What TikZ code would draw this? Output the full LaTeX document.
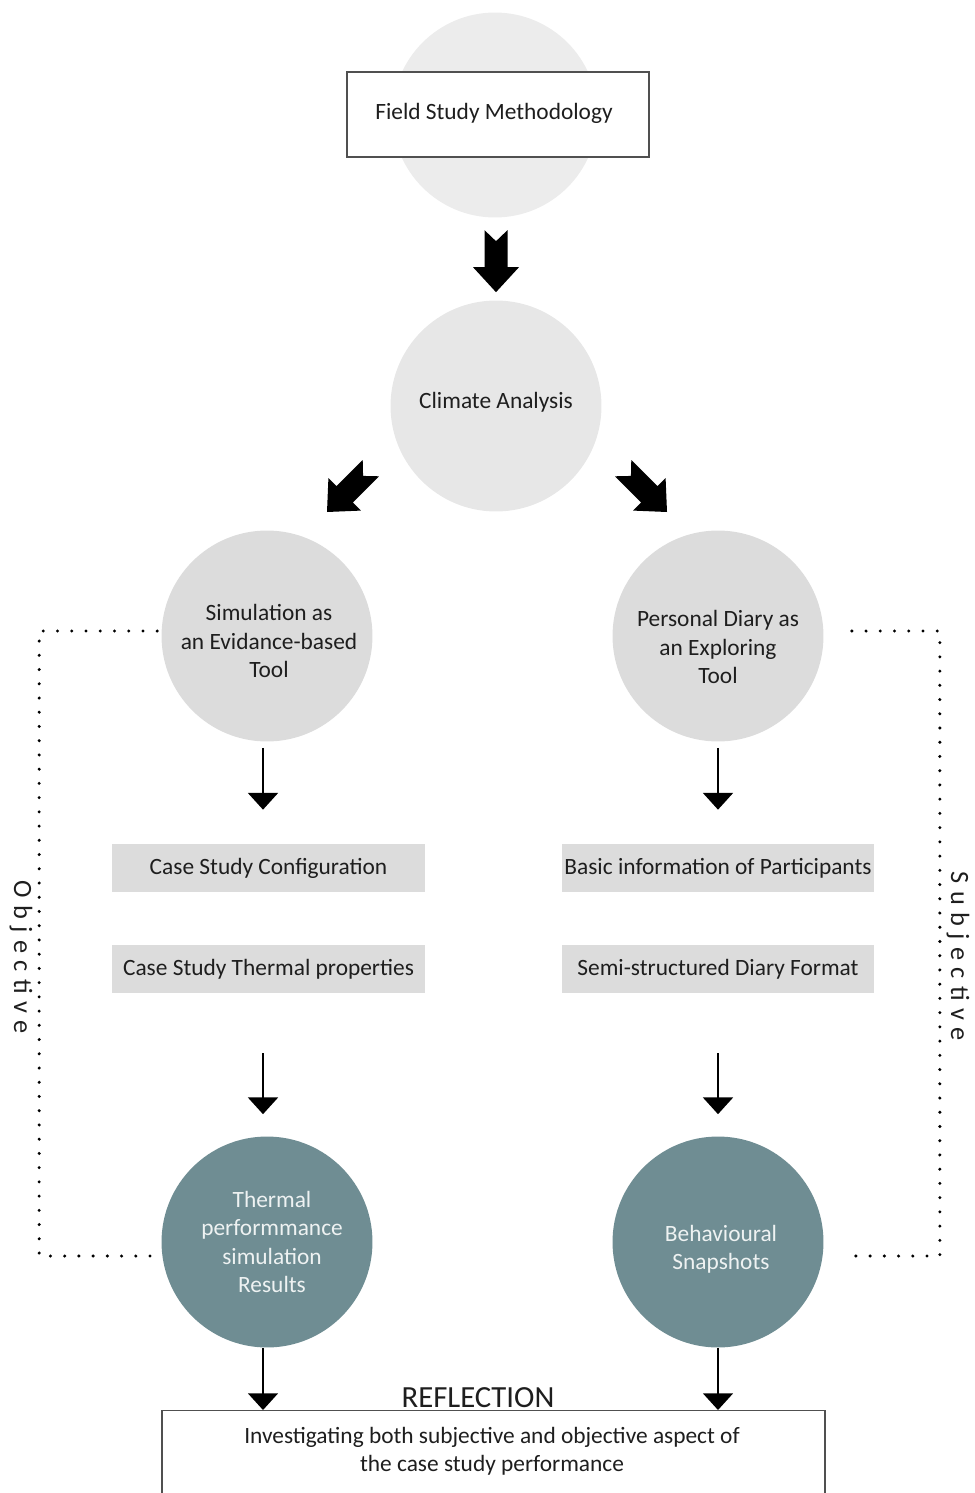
\documentclass[tikz,border=0pt]{standalone}
\usepackage{fontspec}
\setmainfont{Carlito}
\usetikzlibrary{arrows.meta,calc}

\definecolor{inkc}{HTML}{1E1E1E}
\definecolor{palec}{HTML}{ECECEC}
\definecolor{lightc}{HTML}{E7E7E7}
\definecolor{midc}{HTML}{DCDCDC}
\definecolor{tealc}{HTML}{6F8D93}
\definecolor{edgec}{HTML}{505050}
\definecolor{softw}{HTML}{EEF2F2}

\tikzset{
  blockarrow/.pic={
    \fill[black] (0,0) -- (23,-25) -- (11.5,-25) -- (11.5,-62) -- (0,-51)
      -- (-11.5,-62) -- (-11.5,-25) -- (-23,-25) -- cycle;
  },
  disc/.style={circle, inner sep=0pt, minimum size=4.22cm, align=center},
  lightdisc/.style={disc, fill=midc},
  darkdisc/.style={disc, fill=tealc},
  disctext/.style={align=center, inner sep=0pt},
  darktext/.style={disctext, text=softw},
  graybox/.style={fill=midc, minimum width=6.26cm, minimum height=0.96cm, inner sep=0pt},
  flow/.style={line width=1.1pt, -{Triangle[width=17pt,length=9.5pt]}},
  dotline/.style={line width=1.9pt, line cap=round, dash pattern=on 0pt off 8.1pt},
  sidelabel/.style={rotate=-90, font=\fontsize{15}{18}\selectfont\addfontfeature{LetterSpace=28}}
}

\begin{document}
\begin{tikzpicture}[x=0.02cm, y=-0.02cm,
  every node/.style={text=inkc, font=\fontsize{13.3}{16.2}\selectfont}]
\useasboundingbox (0,0) rectangle (974,1493);
\clip (0,0) rectangle (974,1493);

% top: methodology box over a pale disc
\node[disc, fill=palec, minimum size=4.1cm] (topdisc) at (495,115) {};
\node[draw=edgec, line width=0.8pt, fill=white, minimum width=6.04cm, minimum height=1.7cm,
      inner sep=0pt] (fsm) at (498,114.5) {};
\node (fsmtext) at (494,113) {Field Study Methodology};

% climate analysis
\node[disc, fill=lightc] (climate) at (496,406) {};
\node (climatetext) at (496,402) {Climate Analysis};

% the two tools
\node[lightdisc] (sim) at (267,636) {};
\node[disctext] (simtext) at ($(sim.center)+(2,5)$) {Simulation as\\an Evidance-based\\Tool};
\node[lightdisc] (diary) at (718,636) {};
\node[disctext] (diarytext) at ($(diary.center)+(0,11)$) {Personal Diary as\\an Exploring\\Tool};

% inputs
\node[graybox] (conf) at (268.5,868) {Case Study Configuration};
\node[graybox] (prop) at (268.5,969) {Case Study Thermal properties};
\node[graybox] (basic) at (718,868) {Basic information of Participants};
\node[graybox] (format) at (718,969) {Semi-structured Diary Format};

% results
\node[darkdisc] (res) at (267,1242) {};
\node[darktext] (restext) at ($(res.center)+(5,0)$) {Thermal\\performmance\\simulation\\Results};
\node[darkdisc] (snap) at (718,1242) {};
\node[darktext] (snaptext) at ($(snap.center)+(3,7)$) {Behavioural\\Snapshots};

% reflection
\node[draw=edgec, line width=0.8pt, minimum width=13.26cm, minimum height=2.4cm,
      inner sep=0pt, anchor=north] (refl) at (493.5,1410) {};
\node[font=\fontsize{17.5}{20}\selectfont] (refltitle) at (478,1398) {REFLECTION};
\node[align=center] (aspects) at (492,1451)
  {Investigating both subjective and objective aspect of\\the case study performance};

% block arrows out of the upper stages
\pic at ($(climate.north)+(0,-8)$) {blockarrow};
\pic[rotate=-45] at ($(climate.center)+(-169,106)$) {blockarrow};
\pic[rotate=45] at ($(climate.center)+(171,106)$) {blockarrow};

% thin flow arrows, left column
\draw[flow] ($(sim.south)+(-4,6)$) -- ($(sim.south |- conf.north)+(-4,-34)$);
\draw[flow] ($(res.north |- prop.south)+(-4,60)$) -- ($(res.north)+(-4,-22)$);
\draw[flow] ($(res.south)+(-4,0)$) -- ($(res.south |- refl.north)+(-4,0)$);

% thin flow arrows, right column
\draw[flow] ($(diary.south)+(0,6)$) -- ($(diary.south |- basic.north)+(0,-34)$);
\draw[flow] ($(snap.north |- format.south)+(0,60)$) -- ($(snap.north)+(0,-22)$);
\draw[flow] (snap.south) -- (snap.south |- refl.north);

% dotted brackets
\draw[dotline] ($(sim.west)+(-4,-5)$) -- ++(-118,0) |- ($(res.west)+(-4,14)$);
\draw[dotline] ($(diary.east)+(28,-5)$) -- ++(88,0) |- ($(snap.east)+(28,14)$);

\node[sidelabel] (objlabel) at (21,957) {Objective};
\node[sidelabel] (subjlabel) at (958,956) {Subjective};
\end{tikzpicture}
\end{document}
